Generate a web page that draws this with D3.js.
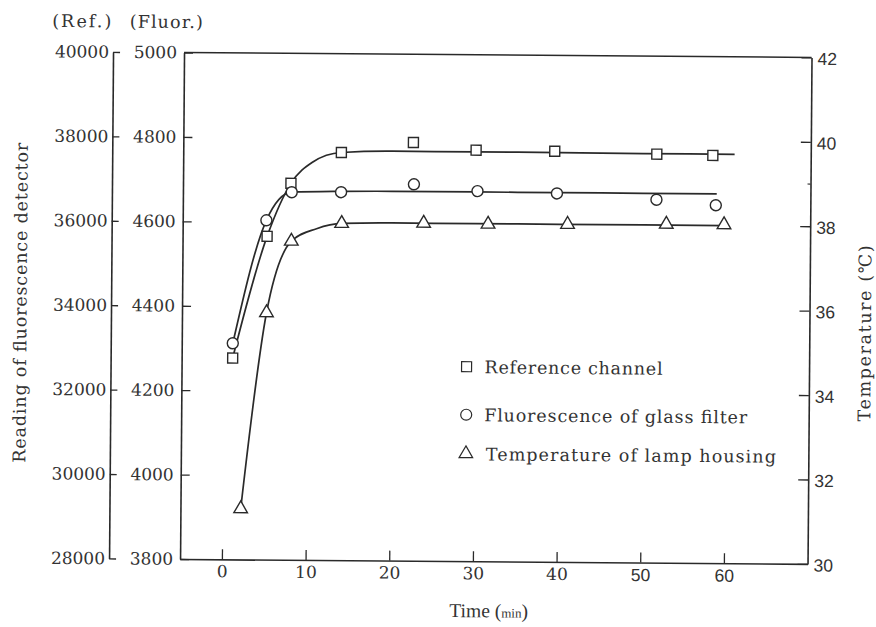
<!DOCTYPE html>
<html>
<head>
<meta charset="utf-8">
<script src="https://cdn.jsdelivr.net/npm/d3@7"></script>
<style>
  html, body { margin: 0; padding: 0; background: #fff; }
  svg { display: block; }
  text { font-weight: normal; }
</style>
</head>
<body>
<svg id="chart" width="876" height="627"></svg>
<script>
// ---- data ----
// Reference channel (squares), left outer axis (Ref.)
const refTime  = [1.1, 5.1, 7.9, 13.9, 22.5, 30.0, 39.4, 51.6, 58.3];
const refValue = [32770, 35660, 36920, 37660, 37910, 37740, 37730, 37680, 37660];
// Fluorescence of glass filter (circles), left inner axis (Fluor.)
const fluorTime  = [1.1, 5.0, 8.0, 13.9, 22.6, 30.2, 39.7, 51.6, 58.7];
const fluorValue = [4312, 4604, 4671, 4672, 4692, 4677, 4673, 4660, 4648];
// Temperature of lamp housing (triangles), right axis (°C)
const tempTime  = [2.2, 5.1, 8.0, 14.0, 23.8, 31.5, 41.0, 52.8, 59.7];
const tempValue = [31.2, 35.85, 37.55, 37.98, 38.0, 37.99, 38.0, 38.02, 38.02];

// hand-drawn fit curves
const refFitTime  = [1.1, 5.1, 7.9, 10.5, 13.9, 20, 30, 40, 50, 60.9];
const refFitValue = [32770, 35660, 36920, 37430, 37660, 37700, 37700, 37700, 37690, 37690];
const fluorFitTime  = [1.1, 5.0, 8.0, 13.9, 20, 30, 40, 50, 58.8];
const fluorFitValue = [4312, 4604, 4671, 4674, 4675, 4675, 4675, 4675, 4675];
const tempFitTime  = [2.2, 5.1, 8.0, 11.0, 14.0, 20, 30, 40, 50, 59.7];
const tempFitValue = [31.2, 35.85, 37.55, 37.85, 37.98, 38.0, 38.0, 38.0, 38.0, 38.0];

// axes ticks
const timeTicks  = [0, 10, 20, 30, 40, 50, 60];
const refTicks   = [28000, 30000, 32000, 34000, 36000, 38000, 40000];
const fluorTicks = [3800, 4000, 4200, 4400, 4600, 4800, 5000];
const tempTicks  = [30, 32, 34, 36, 38, 40, 42];
const tempMinorTicks = [39];

const legendLabels = ["Reference channel", "Fluorescence of glass filter", "Temperature of lamp housing"];

// ---- layout ----
const INK = "#2a2a2a";
const SERIF = "'DejaVu Serif', 'Liberation Serif', serif";
const SERIF2 = "'Liberation Serif', 'Times New Roman', serif";
const SANS = "'Liberation Sans', Arial, sans-serif";
const L = 182, R = 809.5, T = 54.5, B = 561;

const svg = d3.select("#chart");
const g = svg.append("g").attr("transform", "rotate(0.45, 438, 313)");

const x = d3.scaleLinear().domain([-5, 70]).range([L, R]);
const yFluor = d3.scaleLinear().domain([3800, 5000]).range([B, T]);
const yRef = d3.scaleLinear().domain([28000, 40000]).range([B, T]);
const yTemp = d3.scaleLinear().domain([30, 42]).range([B, T]);

function styleAxis(sel, font, size, spacing) {
  sel.selectAll("path.domain").attr("stroke", INK).attr("stroke-width", 1.6);
  sel.selectAll(".tick line").attr("stroke", INK).attr("stroke-width", 1.3);
  sel.selectAll(".tick text").attr("fill", "#333").attr("font-family", font)
     .attr("font-size", size).attr("letter-spacing", spacing || 0);
  sel.attr("font-family", null).attr("font-size", null);
}

// Ref axis (outer left)
const refX = 111;
const gRef = g.append("g").attr("transform", `translate(${refX},0)`)
  .call(d3.axisLeft(yRef).tickValues(refTicks).tickSize(-7).tickSizeOuter(0).tickPadding(4).tickFormat(d3.format("d")));
styleAxis(gRef, SERIF, 17, 0);

// Fluor axis (inner left, plot frame)
const gFl = g.append("g").attr("transform", `translate(${L},0)`)
  .call(d3.axisLeft(yFluor).tickValues(fluorTicks).tickSize(-9).tickSizeOuter(0).tickPadding(7).tickFormat(d3.format("d")));
styleAxis(gFl, SERIF, 17, 0);

// Right temperature axis
const gT = g.append("g").attr("transform", `translate(${R},0)`)
  .call(d3.axisRight(yTemp).tickValues(tempTicks).tickSize(-10).tickSizeOuter(0).tickPadding(6));
styleAxis(gT, SANS, 17.5, 0);
gT.selectAll(".tick text").attr("dy", "0.4em");
gT.selectAll("line.minor").data(tempMinorTicks).enter().append("line")
  .attr("class", "minor").attr("x1", 0).attr("x2", -3)
  .attr("y1", d => yTemp(d)).attr("y2", d => yTemp(d))
  .attr("stroke", INK).attr("stroke-width", 1.2);

// Bottom time axis
const gX = g.append("g").attr("transform", `translate(0,${B})`)
  .call(d3.axisBottom(x).tickValues(timeTicks).tickSize(-10).tickSizeOuter(0).tickPadding(6));
styleAxis(gX, SERIF, 17, 0);
gX.selectAll(".tick text").attr("font-family", d => d >= 50 ? SANS : SERIF)
  .attr("font-size", d => d >= 50 ? 17.5 : 17);

// top frame line
g.append("line").attr("x1", L).attr("x2", R).attr("y1", T).attr("y2", T)
  .attr("stroke", INK).attr("stroke-width", 1.6);

// ---- fit lines ----
function fitLine(times, vals, yScale) {
  const pts = times.map((t, i) => [x(t), yScale(vals[i])]);
  g.append("path")
    .attr("d", d3.line().curve(d3.curveMonotoneX)(pts))
    .attr("fill", "none").attr("stroke", INK).attr("stroke-width", 1.7);
}
fitLine(refFitTime, refFitValue, yRef);
fitLine(fluorFitTime, fluorFitValue, yFluor);
fitLine(tempFitTime, tempFitValue, yTemp);

// ---- markers ----
const sqSym = d3.symbol().type(d3.symbolSquare).size(100);
const ciSym = d3.symbol().type(d3.symbolCircle).size(95);
const trSym = d3.symbol().type(d3.symbolTriangle).size(80);

function markers(times, vals, yScale, sym) {
  g.append("g").selectAll("path").data(times).enter().append("path")
    .attr("d", sym)
    .attr("transform", (t, i) => `translate(${x(t)},${yScale(vals[i])})`)
    .attr("fill", "#fff").attr("stroke", INK).attr("stroke-width", 1.4);
}
markers(refTime, refValue, yRef, sqSym);
markers(fluorTime, fluorValue, yFluor, ciSym);
markers(tempTime, tempValue, yTemp, trSym);

// ---- legend ----
const legSyms = [sqSym, ciSym, trSym];
const legY = [366.5, 414.5, 453.5];
const legLen = [178, 263, 290];
const legTextX = [485, 485, 487];
legendLabels.forEach((lab, i) => {
  g.append("path").attr("d", legSyms[i])
    .attr("transform", `translate(467,${legY[i]})`)
    .attr("fill", "#fff").attr("stroke", INK).attr("stroke-width", 1.2);
  g.append("text").attr("x", legTextX[i]).attr("y", legY[i] + 6.5)
    .attr("font-family", SERIF).attr("font-size", 17.5).attr("fill", "#333")
    .attr("textLength", legLen[i]).attr("lengthAdjust", "spacing")
    .text(lab);
});

// ---- titles ----
g.append("text").attr("x", 79.5).attr("y", 30)
  .attr("text-anchor", "middle").attr("font-family", SERIF).attr("font-size", 17.5)
  .attr("fill", "#333").attr("textLength", 59).attr("lengthAdjust", "spacing").text("(Ref.)");
g.append("text").attr("x", 164).attr("y", 30)
  .attr("text-anchor", "middle").attr("font-family", SERIF).attr("font-size", 17.5)
  .attr("fill", "#333").attr("textLength", 73).attr("lengthAdjust", "spacing").text("(Fluor.)");

g.append("text")
  .attr("transform", "translate(26.5,306) rotate(-90)")
  .attr("text-anchor", "middle").attr("font-family", SERIF).attr("font-size", 17.5)
  .attr("fill", "#333").attr("textLength", 320).attr("lengthAdjust", "spacing")
  .text("Reading of fluorescence detector");

g.append("text")
  .attr("transform", "translate(871,330) rotate(-90)")
  .attr("text-anchor", "middle").attr("font-family", SERIF).attr("font-size", 17.5)
  .attr("fill", "#333").attr("textLength", 176).attr("lengthAdjust", "spacing")
  .text("Temperature (℃)");

const tl = g.append("text").attr("x", 491).attr("y", 617)
  .attr("text-anchor", "middle").attr("font-family", SERIF2).attr("font-size", 19.5)
  .attr("font-weight", "normal").attr("fill", "#333");
tl.append("tspan").text("Time (");
tl.append("tspan").attr("font-size", 13).text("min");
tl.append("tspan").text(")");
</script>
</body>
</html>
